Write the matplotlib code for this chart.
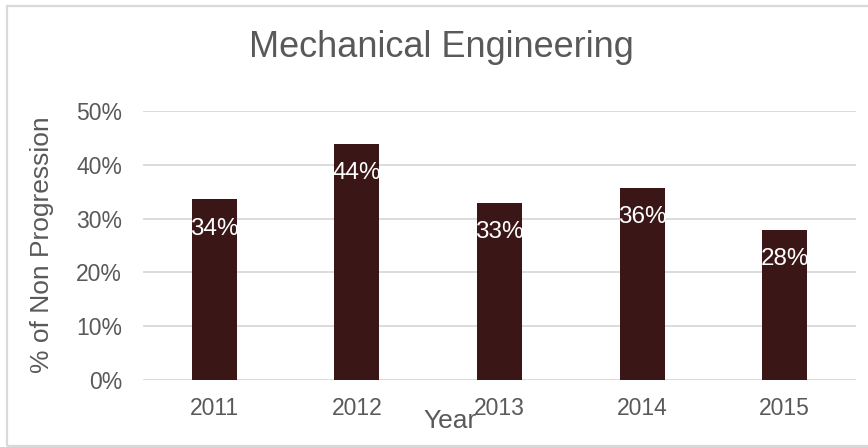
import matplotlib
matplotlib.use("Agg")
import matplotlib.pyplot as plt
from matplotlib.patches import Rectangle
from matplotlib.ticker import PercentFormatter

# Share of students not progressing, by year
years = ["2011", "2012", "2013", "2014", "2015"]
non_progression = [0.336, 0.439, 0.329, 0.357, 0.279]
y_ticks = [0.0, 0.1, 0.2, 0.3, 0.4, 0.5]

BAR_COLOR = "#3A1616"
TEXT_COLOR = "#595959"
GRID_COLOR = "#D9D9D9"

plt.rcParams["font.family"] = ["Liberation Sans", "DejaVu Sans"]

W, H = 868, 447
fig = plt.figure(figsize=(W / 100, H / 100), dpi=100)
fig.patch.set_facecolor("white")

# chart frame
fig.patches.append(Rectangle((7 / W, 1 - 446 / H), 1.0, (446 - 6) / H,
                             transform=fig.transFigure, fill=False,
                             edgecolor=GRID_COLOR, linewidth=1.6))

ax = fig.add_axes([143 / W, 1 - 380 / H, 713 / W, 269 / H])
x = range(len(years))
bars = ax.bar(x, non_progression, width=0.316, color=BAR_COLOR, zorder=3)

ax.set_xlim(-0.5, len(years) - 0.5)
ax.set_ylim(0, 0.5)
ax.set_yticks(y_ticks)
ax.yaxis.set_major_formatter(PercentFormatter(1.0, decimals=0))
ax.set_xticks(list(x))
ax.set_xticklabels(years)

ax.grid(axis="y", color=GRID_COLOR, linewidth=1.3, zorder=0)
for s in ax.spines.values():
    s.set_visible(False)
ax.tick_params(axis="both", length=0, labelsize=16.5, labelcolor=TEXT_COLOR)
ax.tick_params(axis="y", pad=15)
ax.tick_params(axis="x", pad=12)

# value labels inside the top of each bar
for xi, v in zip(x, non_progression):
    ax.annotate(f"{v * 100:.0f}%", xy=(xi, v), xytext=(0, -25.4),
                textcoords="offset points", ha="center", va="baseline",
                color="white", fontsize=17.5, zorder=4)

fig.text(441 / W, 1 - 57.3 / H, "Mechanical Engineering", ha="center",
         va="baseline", fontsize=26, color=TEXT_COLOR)
fig.text(450 / W, 1 - 427.7 / H, "Year", ha="center", va="baseline",
         fontsize=19, color=TEXT_COLOR)
fig.text(42 / W, 1 - 245 / H, "% of Non Progression", ha="center",
         va="center", rotation=90, fontsize=19, color=TEXT_COLOR)

fig.savefig("out.png", dpi=100, facecolor="white")
